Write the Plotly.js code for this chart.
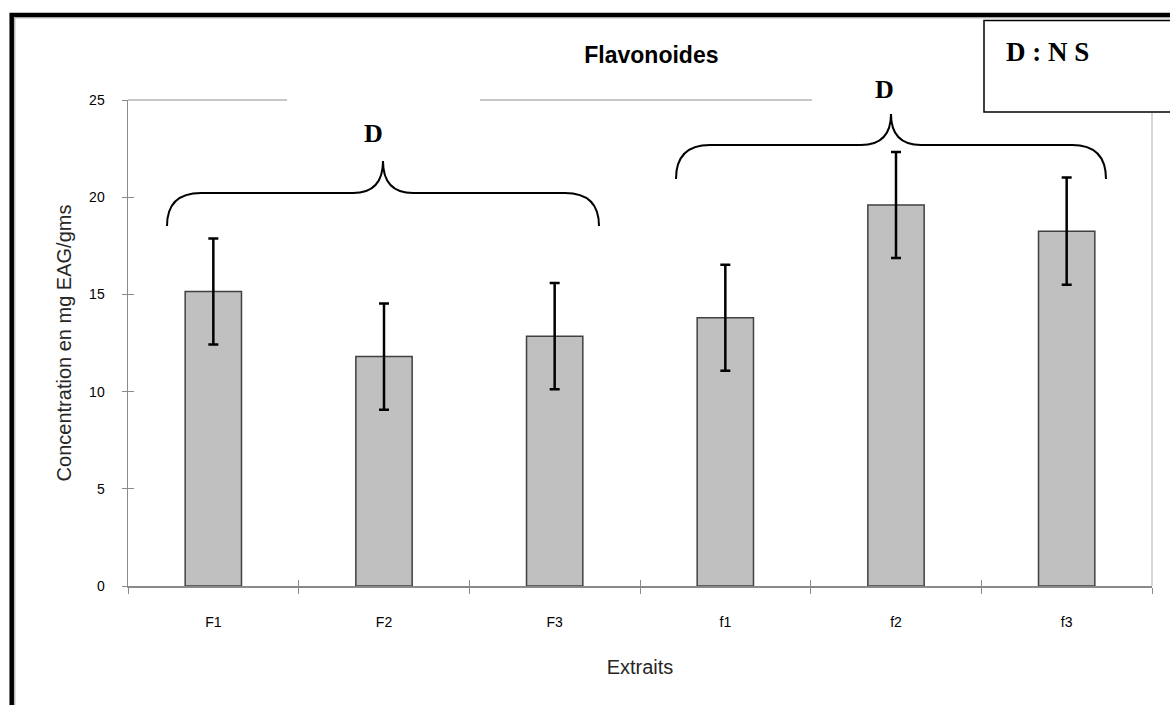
<!DOCTYPE html>
<html>
<head>
<meta charset="utf-8">
<script src="https://cdn.plot.ly/plotly-3.0.1.min.js"></script>
<style>
  html, body { margin: 0; padding: 0; background: #ffffff; }
  #chart { width: 1170px; height: 705px; }
</style>
</head>
<body>
<div id="chart"></div>
<script>
// ---- data ----
const categories = ['F1', 'F2', 'F3', 'f1', 'f2', 'f3'];
const concentration = [15.15, 11.8, 12.85, 13.8, 19.6, 18.25];
const errorValues = [2.73, 2.73, 2.73, 2.73, 2.73, 2.76];
const yTickValues = [0, 5, 10, 15, 20, 25];
const groupLabels = ['D', 'D'];
const boxLabel = 'D : N S';

// ---- geometry helpers (pixel -> paper) ----
const M = { l: 128, r: 18, t: 100, b: 119 };
const W = 1170 - M.l - M.r, H = 705 - M.t - M.b;
const px = x => (x - M.l) / W;
const py = y => (M.t + H - y) / H;

function bracePath(x0, x1, yb, yh, ytip, r, r2) {
  const xc = (x0 + x1) / 2;
  const P = (x, y) => px(x).toFixed(5) + ',' + py(y).toFixed(5);
  return 'M' + P(x0, yb) +
    ' Q' + P(x0, yh) + ' ' + P(x0 + r, yh) +
    ' L' + P(xc - r2, yh) +
    ' Q' + P(xc, yh) + ' ' + P(xc, ytip) +
    ' Q' + P(xc, yh) + ' ' + P(xc + r2, yh) +
    ' L' + P(x1 - r, yh) +
    ' Q' + P(x1, yh) + ' ' + P(x1, yb);
}

const boundaries = categories.map((c, i) => i - 0.5).concat([categories.length - 0.5]);

const traces = [
  {
    type: 'bar',
    x: categories,
    y: concentration,
    width: 0.33,
    marker: { color: '#c0c0c0', line: { color: '#404040', width: 1.5 } },
    error_y: { type: 'data', array: errorValues, visible: true, color: '#000000', thickness: 2.5, width: 5 },
    hoverinfo: 'x+y',
    showlegend: false
  },
  { type: 'scatter', x: [], y: [], xaxis: 'x2', yaxis: 'y2', showlegend: false, hoverinfo: 'skip' }
];

const axisGray = '#8a8a8a';
const tickFont = { family: 'Liberation Sans, Arial, sans-serif', size: 14, color: '#000000' };
const titleFont = { family: 'Liberation Sans, Arial, sans-serif', size: 20, color: '#262626' };

const layout = {
  width: 1170,
  height: 705,
  margin: M,
  paper_bgcolor: '#ffffff',
  plot_bgcolor: '#ffffff',
  title: {
    text: '<b>Flavonoides</b>',
    x: 598 / 1170, xanchor: 'center', xref: 'paper',
    y: 1 - 55 / 705, yanchor: 'middle', yref: 'container',
    font: { family: 'Liberation Sans, Arial, sans-serif', size: 23, color: '#000000' }
  },
  xaxis: {
    type: 'category',
    range: [-0.5, categories.length - 0.5],
    tickson: 'boundaries',
    ticks: 'outside', ticklen: 6, tickwidth: 1, tickcolor: axisGray,
    showline: true, linecolor: axisGray, linewidth: 1.5,
    showgrid: false, zeroline: false,
    tickfont: tickFont,
    ticklabelstandoff: 23,
    title: { text: 'Extraits', font: titleFont, standoff: 30 },
    automargin: false,
    fixedrange: true
  },
  yaxis: {
    range: [0, 25],
    tickvals: yTickValues,
    ticks: 'outside', ticklen: 5, tickwidth: 1, tickcolor: axisGray,
    showline: true, linecolor: axisGray, linewidth: 1.5,
    showgrid: false, zeroline: false,
    tickfont: tickFont,
    ticklabelstandoff: 14,
    title: { text: 'Concentration en mg EAG/gms', font: titleFont, standoff: 12 },
    automargin: false,
    fixedrange: true
  },
  xaxis2: {
    overlaying: 'x', anchor: 'y2',
    range: [-0.5, categories.length - 0.5],
    tickvals: boundaries,
    ticks: 'inside', ticklen: 6, tickwidth: 1, tickcolor: axisGray,
    showticklabels: false, showline: false, showgrid: false, zeroline: false,
    fixedrange: true
  },
  yaxis2: {
    overlaying: 'y', anchor: 'x2',
    range: [0, 25],
    tickvals: yTickValues,
    ticks: 'inside', ticklen: 6, tickwidth: 1, tickcolor: axisGray,
    showticklabels: false, showline: false, showgrid: false, zeroline: false,
    fixedrange: true
  },
  shapes: [
    // visible parts of plot-area top border and right border
    { type: 'line', xref: 'paper', yref: 'paper', x0: 0, x1: px(287), y0: 1, y1: 1, line: { color: '#b4b4b4', width: 1.5 } },
    { type: 'line', xref: 'paper', yref: 'paper', x0: px(480), x1: px(812), y0: 1, y1: 1, line: { color: '#b4b4b4', width: 1.5 } },
    { type: 'line', xref: 'paper', yref: 'paper', x0: 1, x1: 1, y0: 0, y1: py(113), line: { color: '#c8c8c8', width: 1.5 } },
    // braces
    { type: 'path', xref: 'paper', yref: 'paper', path: bracePath(167, 599, 226, 193, 161, 34, 30), line: { color: '#000000', width: 2 } },
    { type: 'path', xref: 'paper', yref: 'paper', path: bracePath(676, 1106, 179, 145, 114, 34, 30), line: { color: '#000000', width: 2 } },
    // outer frame (thick black + thin gray inner)
    { type: 'path', xref: 'paper', yref: 'paper',
      path: 'M' + px(11.7) + ',' + py(720) + ' L' + px(11.7) + ',' + py(15) + ' L' + px(1190) + ',' + py(15),
      line: { color: '#000000', width: 4.5 } },
    { type: 'path', xref: 'paper', yref: 'paper',
      path: 'M' + px(14.8) + ',' + py(720) + ' L' + px(14.8) + ',' + py(17.8) + ' L' + px(1190) + ',' + py(17.8),
      line: { color: '#9a9a9a', width: 1 } },
    // label box
    { type: 'rect', xref: 'paper', yref: 'paper', x0: px(984), x1: px(1200), y0: py(112), y1: py(20.5),
      fillcolor: '#ffffff', line: { color: '#000000', width: 1.5 } }
  ],
  annotations: [
    { xref: 'paper', yref: 'paper', x: px(373), y: py(133), text: '<b>' + groupLabels[0] + '</b>', showarrow: false,
      xanchor: 'center', yanchor: 'middle', font: { family: 'Liberation Serif, Times New Roman, serif', size: 26, color: '#000000' } },
    { xref: 'paper', yref: 'paper', x: px(884), y: py(89), text: '<b>' + groupLabels[1] + '</b>', showarrow: false,
      xanchor: 'center', yanchor: 'middle', font: { family: 'Liberation Serif, Times New Roman, serif', size: 26, color: '#000000' } },
    { xref: 'paper', yref: 'paper', x: px(1004), y: py(52), text: '<b>' + boxLabel + '</b>', showarrow: false,
      xanchor: 'left', yanchor: 'middle', font: { family: 'Liberation Serif, Times New Roman, serif', size: 27, color: '#000000' } }
  ]
};

Plotly.newPlot('chart', traces, layout, { displayModeBar: false, staticPlot: true });
</script>
</body>
</html>
